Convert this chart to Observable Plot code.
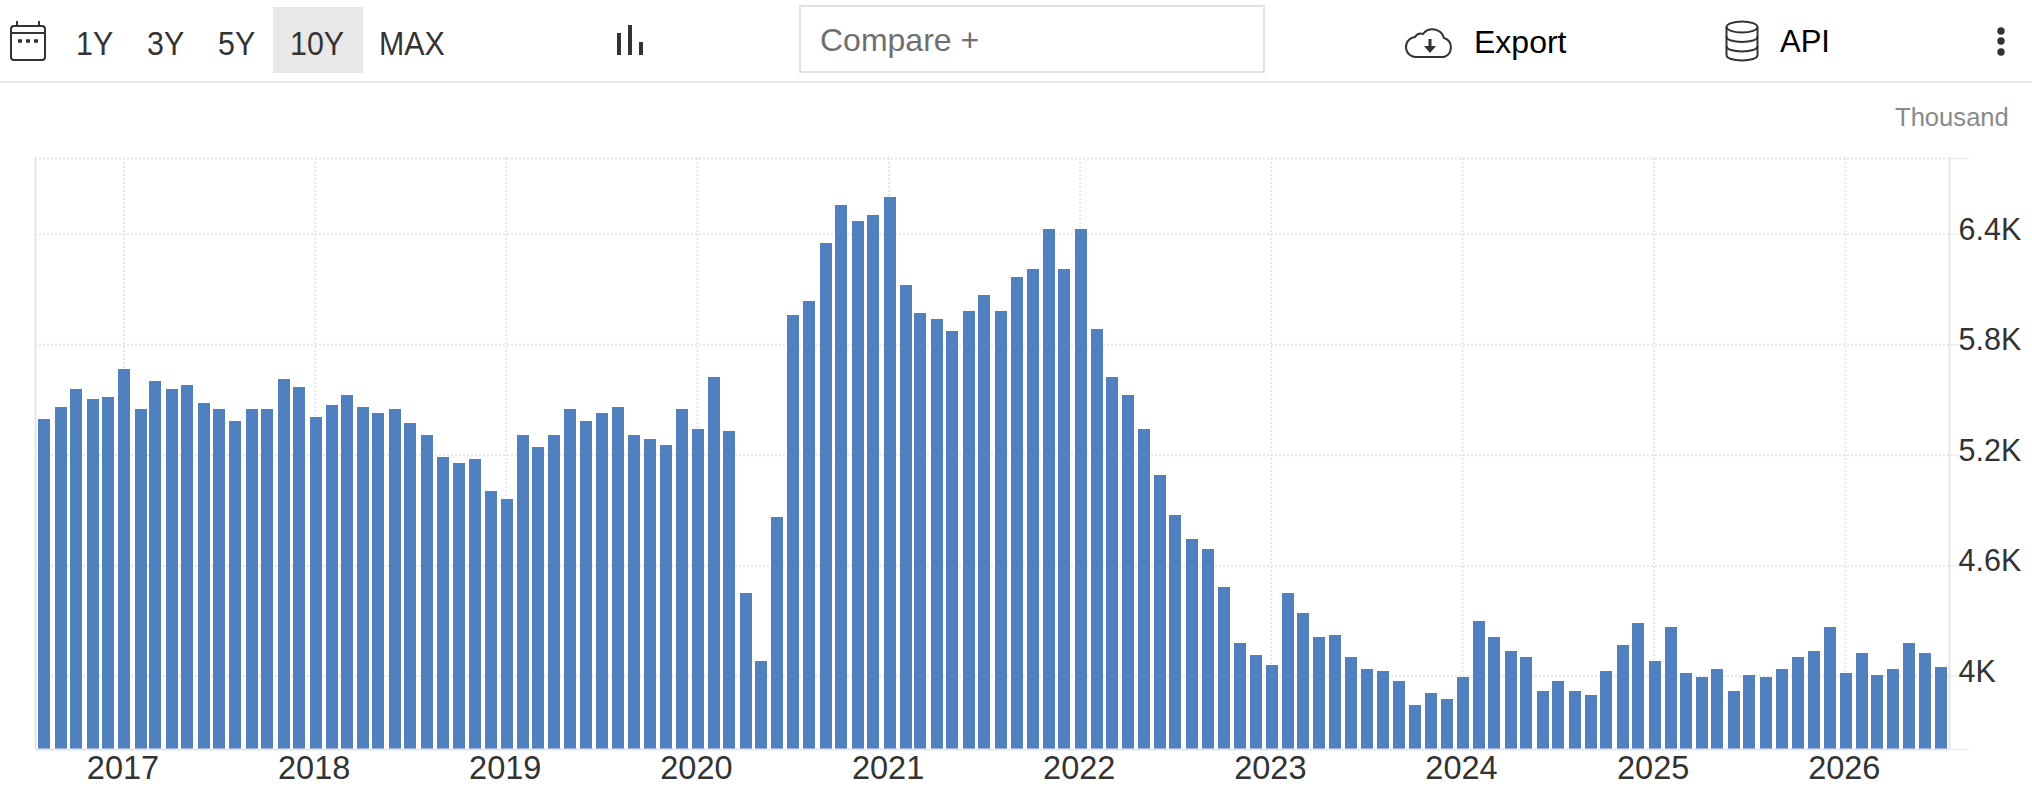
<!DOCTYPE html>
<html>
<head>
<meta charset="utf-8">
<script src="https://cdn.jsdelivr.net/npm/d3@7"></script>
<script src="https://cdn.jsdelivr.net/npm/@observablehq/plot@0.6"></script>
<style>
html,body{margin:0;padding:0;background:#fff;width:2032px;height:810px;overflow:hidden;font-family:"Liberation Sans",Arial,sans-serif}
#toolbar{position:relative;width:2032px;height:84px;box-sizing:border-box}
#toolbar .sep{position:absolute;left:0;top:81px;width:2032px;height:2px;background:#e6e6ec}
#toolbar .t{position:absolute;white-space:nowrap;line-height:1}
#toolbar .range{color:#333;font-size:33px;top:27px;transform:scaleX(.92);transform-origin:left center}
#toolbar .hl{position:absolute;left:273px;top:7px;width:90px;height:66px;background:#e8e8e8}
#toolbar .cmp{position:absolute;left:799px;top:5px;width:466px;height:68px;box-sizing:border-box;border:2px solid #e2e2da}
#toolbar svg{position:absolute;left:0;top:0}
#unit{position:absolute;left:1895px;top:105px;color:#8a8a8a;font-size:25.6px;line-height:1;white-space:nowrap;z-index:2}
#chart{position:absolute;left:0;top:84px;z-index:1}
</style>
</head>
<body>
<div id="toolbar">
  <div class="sep"></div>
  <div class="hl"></div>
  <div class="cmp"></div>
  <div class="t range" style="left:76px">1Y</div>
  <div class="t range" style="left:147px">3Y</div>
  <div class="t range" style="left:218px">5Y</div>
  <div class="t range" style="left:290px">10Y</div>
  <div class="t range" style="left:379px">MAX</div>
  <div class="t" style="left:820px;top:24px;font-size:32px;color:#6f6f6f">Compare +</div>
  <div class="t" style="left:1474px;top:26px;font-size:32px;color:#000">Export</div>
  <div class="t" style="left:1780px;top:26px;font-size:31px;color:#000">API</div>
  <svg width="2032" height="84" fill="none" stroke="#333" stroke-width="2">
    <rect x="11" y="26" width="34" height="34" rx="3"/>
    <path d="M11 33H45M17 21V26M39 21V26"/>
    <path d="M18 41h4M26 41h4M34 41h4" stroke-width="3.4"/>
    <path d="M619 33V55M630 25V55M641 42V55" stroke-width="4"/>
    <path d="M1417 57a10 10 0 0 1-2-20 a7 7 0 0 1 8-3 a12 12 0 0 1 21 4 a10 10 0 0 1 0 19Z"/>
    <path d="M1430 39V49" stroke-width="3"/>
    <path d="M1424 46h12l-6 7Z" fill="#333" stroke="none"/>
    <ellipse cx="1742" cy="27" rx="15.5" ry="5.5"/>
    <path d="M1726.500 27V55c0 3.500 7 5.500 15.500 5.500s15.500-2 15.500-5.500V27"/>
    <path d="M1726.500 36.500c0 3.500 7 5.500 15.500 5.500s15.500-2 15.500-5.500M1726.500 46c0 3.500 7 5.500 15.500 5.500s15.500-2 15.500-5.500"/>
    <g fill="#333" stroke="none"><circle cx="2001" cy="31" r="3.700"/><circle cx="2001" cy="41" r="3.700"/><circle cx="2001" cy="52" r="3.700"/></g>
  </svg>
</div>
<div id="unit">Thousand</div>
<div id="chart"></div>
<script>
const firstMonth = [2016, 6];
const values = [
  5394,5459,5557,5502,5513,5665,5448,5600,5557,5579,5481,5448,
  5383,5448,5448,5611,5568,5405,5470,5524,5459,5426,5448,5372,
  5307,5188,5155,5177,5003,4959,5307,5242,5307,5448,5383,5426,
  5459,5307,5285,5253,5448,5340,5622,5329,4449,4080,4862,5959,
  6035,6350,6556,6469,6502,6599,6122,5969,5937,5872,5980,6067,
  5980,6165,6208,6426,6208,6426,5883,5622,5524,5340,5090,4873,
  4742,4688,4482,4178,4112,4058,4449,4340,4210,4221,4102,4036,
  4026,3971,3841,3906,3873,3993,4297,4210,4134,4102,3917,3971,
  3917,3895,4026,4167,4286,4080,4264,4015,3993,4036,3917,4004,
  3993,4036,4102,4134,4264,4015,4123,4004,4036,4178,4123,4047
];
const yearTicks = [2017,2018,2019,2020,2021,2022,2023,2024,2025,2026];
const valueTicks = [4000,4600,5200,5800,6400];
const xDomain = [new Date(Date.UTC(2016,6,16)), new Date(Date.UTC(2026,6,19))];
const yDomain = [3602, 6811];
const barColor = "#5080be", gridColor = "#e6e6e6", textColor = "#333";

const monthEnd = i => new Date(Date.UTC(firstMonth[0], firstMonth[1] + i + 1, 0));
const rows = values.map((v, i) => ({date: monthEnd(i), value: v}));
const yearDates = yearTicks.map(y => new Date(Date.UTC(y, 0, 1)));
const halfBarHours = 275;

const plot = Plot.plot({
  width: 2032, height: 726,
  marginTop: 74, marginBottom: 61, marginLeft: 35, marginRight: 83,
  x: {type: "utc", domain: xDomain},
  y: {domain: yDomain},
  style: {fontFamily: "'Liberation Sans',Arial,sans-serif", background: "transparent"},
  marks: [
    Plot.ruleX(yearDates, {stroke: gridColor, strokeWidth: 2, strokeDasharray: "2,2"}),
    Plot.ruleY([...valueTicks, yDomain[1]], {stroke: gridColor, strokeWidth: 2, strokeDasharray: "2,2"}),
    Plot.rect(rows, {
      x1: d => d3.utcHour.offset(d.date, -halfBarHours),
      x2: d => d3.utcHour.offset(d.date, halfBarHours),
      y1: () => yDomain[0], y2: "value",
      fill: barColor, dx: 1.5, shapeRendering: "crispEdges"
    }),
    Plot.ruleX([xDomain[0], xDomain[1]], {stroke: gridColor, strokeWidth: 2}),
    Plot.ruleY([yDomain[0]], {stroke: gridColor, strokeWidth: 2}),
    Plot.axisX({anchor: "bottom", ticks: yearDates, tickSize: 0, tickPadding: 6, dx: -1, tickFormat: d3.utcFormat("%Y"), fontSize: 32.5, fill: textColor, label: null}),
    Plot.axisY({anchor: "right", ticks: valueTicks, tickSize: 9, fill: "none", stroke: gridColor, label: null}),
    Plot.axisY({anchor: "right", ticks: yDomain, tickSize: 19, fill: "none", stroke: gridColor, label: null}),
    Plot.axisY({anchor: "right", ticks: valueTicks, tickSize: 0, tickPadding: 9, dy: -4, tickFormat: d => d / 1000 + "K", fontSize: 30.5, fill: textColor, label: null})
  ]
});
document.getElementById("chart").appendChild(plot);
</script>
</body>
</html>
